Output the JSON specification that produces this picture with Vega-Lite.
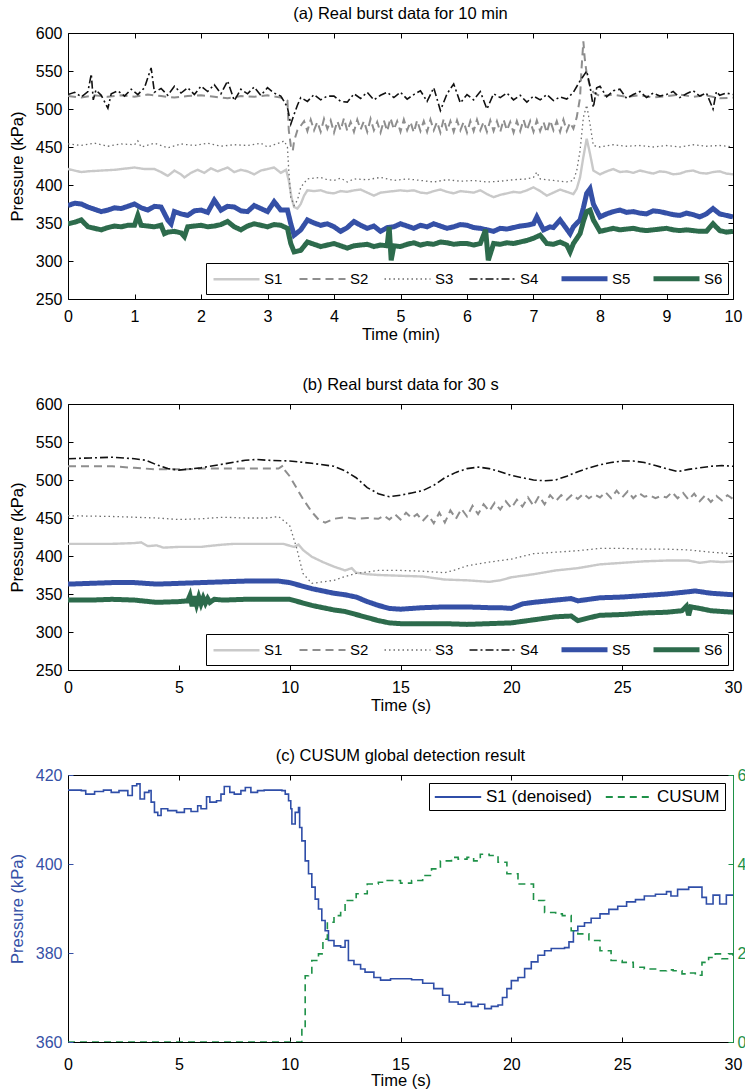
{
  "$schema": "https://vega.github.io/schema/vega-lite/v6.json",
  "padding": {"left": 8, "top": 5, "right": 0, "bottom": 0},
  "spacing": 33,
  "resolve": {"scale": {"color": "independent", "strokeDash": "independent", "strokeWidth": "independent"}, "legend": {"color": "independent", "strokeDash": "independent"}},
  "config": {
    "font": "Liberation Sans",
    "view": {"stroke": "black", "strokeWidth": 1},
    "axis": {"grid": false, "domain": false, "tickColor": "black", "tickSize": -5, "labelFontSize": 16, "labelColor": "black", "titleFontSize": 16.5, "titleFontWeight": "normal", "titleColor": "black", "labelFlush": false, "labelOverlap": false},
    "axisX": {"labelPadding": 14, "titlePadding": 2},
    "axisY": {"labelPadding": 11, "titlePadding": 10},
    "title": {"fontSize": 16.5, "fontWeight": "normal", "offset": 2.5, "color": "black"},
    "legend": {"symbolType": "M-2.875,0H2.875", "symbolSize": 256, "symbolOffset": 15, "labelOffset": 17, "symbolStrokeWidth": 2, "labelColor": "black", "strokeColor": "black", "fillColor": "white", "padding": 5}
  },
  "vconcat": [
    {
      "title": "(a) Real burst data for 10 min",
      "width": 665,
      "height": 266,
      "data": {"values": [
        {"s":"S1","t":0,"v":421},{"s":"S1","t":0.1,"v":419},{"s":"S1","t":0.2,"v":417},{"s":"S1","t":0.3,"v":418},{"s":"S1","t":0.5,"v":419},{"s":"S1","t":0.7,"v":420},{"s":"S1","t":0.9,"v":422},{"s":"S1","t":1.0,"v":423},{"s":"S1","t":1.15,"v":421},{"s":"S1","t":1.3,"v":421},{"s":"S1","t":1.4,"v":417},{"s":"S1","t":1.5,"v":412},{"s":"S1","t":1.6,"v":419},{"s":"S1","t":1.7,"v":414},{"s":"S1","t":1.75,"v":410},{"s":"S1","t":1.85,"v":416},{"s":"S1","t":1.95,"v":420},{"s":"S1","t":2.05,"v":416},{"s":"S1","t":2.15,"v":422},{"s":"S1","t":2.25,"v":418},{"s":"S1","t":2.4,"v":423},{"s":"S1","t":2.5,"v":417},{"s":"S1","t":2.6,"v":420},{"s":"S1","t":2.7,"v":418},{"s":"S1","t":2.8,"v":414},{"s":"S1","t":2.9,"v":419},{"s":"S1","t":3.0,"v":421},{"s":"S1","t":3.1,"v":423},{"s":"S1","t":3.2,"v":416},{"s":"S1","t":3.28,"v":420},{"s":"S1","t":3.32,"v":406},{"s":"S1","t":3.36,"v":384},{"s":"S1","t":3.4,"v":371},{"s":"S1","t":3.45,"v":369},{"s":"S1","t":3.5,"v":375},{"s":"S1","t":3.55,"v":386},{"s":"S1","t":3.6,"v":393},{"s":"S1","t":3.7,"v":392},{"s":"S1","t":3.8,"v":393},{"s":"S1","t":3.9,"v":390},{"s":"S1","t":4.0,"v":389},{"s":"S1","t":4.1,"v":392},{"s":"S1","t":4.2,"v":391},{"s":"S1","t":4.3,"v":393},{"s":"S1","t":4.4,"v":394},{"s":"S1","t":4.5,"v":390},{"s":"S1","t":4.6,"v":386},{"s":"S1","t":4.7,"v":390},{"s":"S1","t":4.8,"v":391},{"s":"S1","t":4.9,"v":392},{"s":"S1","t":5.0,"v":393},{"s":"S1","t":5.1,"v":392},{"s":"S1","t":5.2,"v":393},{"s":"S1","t":5.3,"v":390},{"s":"S1","t":5.4,"v":389},{"s":"S1","t":5.5,"v":392},{"s":"S1","t":5.6,"v":394},{"s":"S1","t":5.7,"v":391},{"s":"S1","t":5.8,"v":389},{"s":"S1","t":5.9,"v":392},{"s":"S1","t":6.0,"v":391},{"s":"S1","t":6.1,"v":390},{"s":"S1","t":6.2,"v":393},{"s":"S1","t":6.3,"v":388},{"s":"S1","t":6.4,"v":384},{"s":"S1","t":6.5,"v":387},{"s":"S1","t":6.6,"v":389},{"s":"S1","t":6.7,"v":391},{"s":"S1","t":6.8,"v":390},{"s":"S1","t":6.9,"v":393},{"s":"S1","t":7.0,"v":397},{"s":"S1","t":7.1,"v":392},{"s":"S1","t":7.2,"v":386},{"s":"S1","t":7.3,"v":390},{"s":"S1","t":7.4,"v":394},{"s":"S1","t":7.5,"v":391},{"s":"S1","t":7.6,"v":388},{"s":"S1","t":7.65,"v":395},{"s":"S1","t":7.7,"v":410},{"s":"S1","t":7.75,"v":437},{"s":"S1","t":7.8,"v":461},{"s":"S1","t":7.85,"v":441},{"s":"S1","t":7.9,"v":419},{"s":"S1","t":8.0,"v":414},{"s":"S1","t":8.1,"v":418},{"s":"S1","t":8.2,"v":421},{"s":"S1","t":8.3,"v":417},{"s":"S1","t":8.4,"v":418},{"s":"S1","t":8.5,"v":416},{"s":"S1","t":8.6,"v":419},{"s":"S1","t":8.7,"v":417},{"s":"S1","t":8.8,"v":415},{"s":"S1","t":8.9,"v":418},{"s":"S1","t":9.0,"v":417},{"s":"S1","t":9.1,"v":414},{"s":"S1","t":9.2,"v":415},{"s":"S1","t":9.3,"v":418},{"s":"S1","t":9.4,"v":419},{"s":"S1","t":9.5,"v":416},{"s":"S1","t":9.6,"v":415},{"s":"S1","t":9.7,"v":417},{"s":"S1","t":9.8,"v":418},{"s":"S1","t":9.9,"v":415},{"s":"S1","t":10.0,"v":414},
        {"s":"S2","t":0,"v":517},{"s":"S2","t":0.2,"v":515},{"s":"S2","t":0.4,"v":518},{"s":"S2","t":0.6,"v":516},{"s":"S2","t":0.8,"v":518},{"s":"S2","t":1.0,"v":516},{"s":"S2","t":1.2,"v":519},{"s":"S2","t":1.4,"v":517},{"s":"S2","t":1.6,"v":515},{"s":"S2","t":1.8,"v":517},{"s":"S2","t":2.0,"v":518},{"s":"S2","t":2.2,"v":516},{"s":"S2","t":2.4,"v":514},{"s":"S2","t":2.6,"v":517},{"s":"S2","t":2.8,"v":516},{"s":"S2","t":3.0,"v":518},{"s":"S2","t":3.2,"v":515},{"s":"S2","t":3.3,"v":511},{"s":"S2","t":3.32,"v":472},{"s":"S2","t":3.35,"v":452},{"s":"S2","t":3.38,"v":445},{"s":"S2","t":3.4,"v":458},{"s":"S2","t":3.45,"v":472},{"s":"S2","t":3.5,"v":478},{"s":"S2","t":3.55,"v":484},{"s":"S2","t":3.6,"v":471},{"s":"S2","t":3.65,"v":486},{"s":"S2","t":3.7,"v":472},{"s":"S2","t":3.75,"v":483},{"s":"S2","t":3.8,"v":470},{"s":"S2","t":3.85,"v":487},{"s":"S2","t":3.9,"v":474},{"s":"S2","t":3.95,"v":485},{"s":"S2","t":4.0,"v":469},{"s":"S2","t":4.05,"v":484},{"s":"S2","t":4.1,"v":472},{"s":"S2","t":4.15,"v":488},{"s":"S2","t":4.2,"v":471},{"s":"S2","t":4.25,"v":483},{"s":"S2","t":4.3,"v":470},{"s":"S2","t":4.35,"v":486},{"s":"S2","t":4.4,"v":473},{"s":"S2","t":4.45,"v":484},{"s":"S2","t":4.5,"v":470},{"s":"S2","t":4.55,"v":487},{"s":"S2","t":4.6,"v":472},{"s":"S2","t":4.65,"v":483},{"s":"S2","t":4.7,"v":469},{"s":"S2","t":4.75,"v":485},{"s":"S2","t":4.8,"v":471},{"s":"S2","t":4.85,"v":488},{"s":"S2","t":4.9,"v":473},{"s":"S2","t":4.95,"v":484},{"s":"S2","t":5.0,"v":470},{"s":"S2","t":5.05,"v":486},{"s":"S2","t":5.1,"v":472},{"s":"S2","t":5.15,"v":483},{"s":"S2","t":5.2,"v":469},{"s":"S2","t":5.25,"v":485},{"s":"S2","t":5.3,"v":471},{"s":"S2","t":5.35,"v":484},{"s":"S2","t":5.4,"v":470},{"s":"S2","t":5.45,"v":486},{"s":"S2","t":5.5,"v":472},{"s":"S2","t":5.55,"v":483},{"s":"S2","t":5.6,"v":469},{"s":"S2","t":5.65,"v":487},{"s":"S2","t":5.7,"v":471},{"s":"S2","t":5.75,"v":484},{"s":"S2","t":5.8,"v":470},{"s":"S2","t":5.85,"v":485},{"s":"S2","t":5.9,"v":472},{"s":"S2","t":5.95,"v":483},{"s":"S2","t":6.0,"v":469},{"s":"S2","t":6.05,"v":484},{"s":"S2","t":6.1,"v":471},{"s":"S2","t":6.15,"v":486},{"s":"S2","t":6.2,"v":472},{"s":"S2","t":6.25,"v":483},{"s":"S2","t":6.3,"v":470},{"s":"S2","t":6.35,"v":485},{"s":"S2","t":6.4,"v":471},{"s":"S2","t":6.45,"v":484},{"s":"S2","t":6.5,"v":470},{"s":"S2","t":6.55,"v":486},{"s":"S2","t":6.6,"v":472},{"s":"S2","t":6.65,"v":483},{"s":"S2","t":6.7,"v":469},{"s":"S2","t":6.75,"v":484},{"s":"S2","t":6.8,"v":471},{"s":"S2","t":6.85,"v":486},{"s":"S2","t":6.9,"v":472},{"s":"S2","t":6.95,"v":484},{"s":"S2","t":7.0,"v":470},{"s":"S2","t":7.05,"v":485},{"s":"S2","t":7.1,"v":471},{"s":"S2","t":7.15,"v":483},{"s":"S2","t":7.2,"v":469},{"s":"S2","t":7.25,"v":485},{"s":"S2","t":7.3,"v":472},{"s":"S2","t":7.35,"v":484},{"s":"S2","t":7.4,"v":470},{"s":"S2","t":7.45,"v":486},{"s":"S2","t":7.5,"v":471},{"s":"S2","t":7.55,"v":482},{"s":"S2","t":7.6,"v":474},{"s":"S2","t":7.65,"v":489},{"s":"S2","t":7.7,"v":515},{"s":"S2","t":7.72,"v":550},{"s":"S2","t":7.75,"v":589},{"s":"S2","t":7.77,"v":567},{"s":"S2","t":7.8,"v":546},{"s":"S2","t":7.85,"v":530},{"s":"S2","t":7.9,"v":522},{"s":"S2","t":8.0,"v":517},{"s":"S2","t":8.2,"v":519},{"s":"S2","t":8.4,"v":516},{"s":"S2","t":8.6,"v":518},{"s":"S2","t":8.8,"v":515},{"s":"S2","t":9.0,"v":517},{"s":"S2","t":9.2,"v":519},{"s":"S2","t":9.4,"v":516},{"s":"S2","t":9.6,"v":518},{"s":"S2","t":9.8,"v":514},{"s":"S2","t":10.0,"v":515},
        {"s":"S3","t":0,"v":454},{"s":"S3","t":0.2,"v":452},{"s":"S3","t":0.4,"v":455},{"s":"S3","t":0.6,"v":451},{"s":"S3","t":0.8,"v":454},{"s":"S3","t":1.0,"v":453},{"s":"S3","t":1.05,"v":458},{"s":"S3","t":1.1,"v":450},{"s":"S3","t":1.3,"v":455},{"s":"S3","t":1.5,"v":449},{"s":"S3","t":1.7,"v":454},{"s":"S3","t":1.9,"v":452},{"s":"S3","t":2.1,"v":455},{"s":"S3","t":2.3,"v":451},{"s":"S3","t":2.5,"v":453},{"s":"S3","t":2.7,"v":452},{"s":"S3","t":2.9,"v":455},{"s":"S3","t":3.0,"v":450},{"s":"S3","t":3.1,"v":453},{"s":"S3","t":3.2,"v":456},{"s":"S3","t":3.25,"v":458},{"s":"S3","t":3.3,"v":450},{"s":"S3","t":3.32,"v":419},{"s":"S3","t":3.35,"v":384},{"s":"S3","t":3.4,"v":373},{"s":"S3","t":3.45,"v":380},{"s":"S3","t":3.5,"v":397},{"s":"S3","t":3.6,"v":408},{"s":"S3","t":3.7,"v":409},{"s":"S3","t":3.8,"v":410},{"s":"S3","t":3.9,"v":407},{"s":"S3","t":4.0,"v":406},{"s":"S3","t":4.1,"v":409},{"s":"S3","t":4.2,"v":404},{"s":"S3","t":4.3,"v":408},{"s":"S3","t":4.5,"v":407},{"s":"S3","t":4.7,"v":410},{"s":"S3","t":4.9,"v":406},{"s":"S3","t":5.1,"v":408},{"s":"S3","t":5.3,"v":406},{"s":"S3","t":5.5,"v":404},{"s":"S3","t":5.7,"v":407},{"s":"S3","t":5.9,"v":405},{"s":"S3","t":6.1,"v":406},{"s":"S3","t":6.3,"v":404},{"s":"S3","t":6.5,"v":405},{"s":"S3","t":6.7,"v":407},{"s":"S3","t":6.9,"v":408},{"s":"S3","t":7.0,"v":410},{"s":"S3","t":7.05,"v":417},{"s":"S3","t":7.1,"v":408},{"s":"S3","t":7.3,"v":406},{"s":"S3","t":7.5,"v":404},{"s":"S3","t":7.6,"v":406},{"s":"S3","t":7.65,"v":419},{"s":"S3","t":7.7,"v":445},{"s":"S3","t":7.75,"v":489},{"s":"S3","t":7.8,"v":505},{"s":"S3","t":7.85,"v":480},{"s":"S3","t":7.9,"v":452},{"s":"S3","t":8.0,"v":450},{"s":"S3","t":8.2,"v":453},{"s":"S3","t":8.4,"v":451},{"s":"S3","t":8.6,"v":452},{"s":"S3","t":8.8,"v":450},{"s":"S3","t":9.0,"v":452},{"s":"S3","t":9.2,"v":450},{"s":"S3","t":9.4,"v":453},{"s":"S3","t":9.6,"v":451},{"s":"S3","t":9.8,"v":452},{"s":"S3","t":10.0,"v":450},
        {"s":"S4","t":0,"v":519},{"s":"S4","t":0.1,"v":522},{"s":"S4","t":0.2,"v":516},{"s":"S4","t":0.3,"v":523},{"s":"S4","t":0.35,"v":546},{"s":"S4","t":0.38,"v":512},{"s":"S4","t":0.42,"v":525},{"s":"S4","t":0.5,"v":518},{"s":"S4","t":0.6,"v":501},{"s":"S4","t":0.65,"v":520},{"s":"S4","t":0.75,"v":524},{"s":"S4","t":0.85,"v":517},{"s":"S4","t":0.95,"v":526},{"s":"S4","t":1.05,"v":519},{"s":"S4","t":1.15,"v":528},{"s":"S4","t":1.25,"v":554},{"s":"S4","t":1.3,"v":522},{"s":"S4","t":1.4,"v":527},{"s":"S4","t":1.5,"v":518},{"s":"S4","t":1.6,"v":530},{"s":"S4","t":1.7,"v":521},{"s":"S4","t":1.8,"v":528},{"s":"S4","t":1.9,"v":519},{"s":"S4","t":2.0,"v":530},{"s":"S4","t":2.1,"v":523},{"s":"S4","t":2.2,"v":532},{"s":"S4","t":2.3,"v":520},{"s":"S4","t":2.4,"v":537},{"s":"S4","t":2.5,"v":511},{"s":"S4","t":2.6,"v":526},{"s":"S4","t":2.7,"v":520},{"s":"S4","t":2.8,"v":529},{"s":"S4","t":2.9,"v":518},{"s":"S4","t":3.0,"v":528},{"s":"S4","t":3.1,"v":521},{"s":"S4","t":3.2,"v":517},{"s":"S4","t":3.25,"v":510},{"s":"S4","t":3.3,"v":502},{"s":"S4","t":3.35,"v":480},{"s":"S4","t":3.4,"v":493},{"s":"S4","t":3.45,"v":505},{"s":"S4","t":3.5,"v":515},{"s":"S4","t":3.6,"v":510},{"s":"S4","t":3.7,"v":519},{"s":"S4","t":3.8,"v":512},{"s":"S4","t":3.9,"v":517},{"s":"S4","t":4.0,"v":517},{"s":"S4","t":4.1,"v":510},{"s":"S4","t":4.2,"v":509},{"s":"S4","t":4.3,"v":520},{"s":"S4","t":4.4,"v":514},{"s":"S4","t":4.5,"v":522},{"s":"S4","t":4.6,"v":512},{"s":"S4","t":4.7,"v":518},{"s":"S4","t":4.8,"v":522},{"s":"S4","t":4.9,"v":515},{"s":"S4","t":5.0,"v":522},{"s":"S4","t":5.1,"v":513},{"s":"S4","t":5.2,"v":519},{"s":"S4","t":5.3,"v":524},{"s":"S4","t":5.4,"v":510},{"s":"S4","t":5.5,"v":528},{"s":"S4","t":5.6,"v":498},{"s":"S4","t":5.7,"v":520},{"s":"S4","t":5.8,"v":533},{"s":"S4","t":5.9,"v":508},{"s":"S4","t":6.0,"v":519},{"s":"S4","t":6.1,"v":512},{"s":"S4","t":6.2,"v":523},{"s":"S4","t":6.3,"v":500},{"s":"S4","t":6.4,"v":520},{"s":"S4","t":6.5,"v":515},{"s":"S4","t":6.6,"v":521},{"s":"S4","t":6.7,"v":512},{"s":"S4","t":6.8,"v":518},{"s":"S4","t":6.9,"v":509},{"s":"S4","t":7.0,"v":517},{"s":"S4","t":7.1,"v":512},{"s":"S4","t":7.2,"v":519},{"s":"S4","t":7.3,"v":511},{"s":"S4","t":7.4,"v":516},{"s":"S4","t":7.5,"v":513},{"s":"S4","t":7.6,"v":522},{"s":"S4","t":7.7,"v":537},{"s":"S4","t":7.8,"v":550},{"s":"S4","t":7.85,"v":530},{"s":"S4","t":7.9,"v":502},{"s":"S4","t":7.95,"v":528},{"s":"S4","t":8.0,"v":530},{"s":"S4","t":8.1,"v":516},{"s":"S4","t":8.2,"v":524},{"s":"S4","t":8.3,"v":526},{"s":"S4","t":8.4,"v":514},{"s":"S4","t":8.5,"v":519},{"s":"S4","t":8.6,"v":523},{"s":"S4","t":8.7,"v":515},{"s":"S4","t":8.8,"v":521},{"s":"S4","t":8.9,"v":517},{"s":"S4","t":9.0,"v":519},{"s":"S4","t":9.1,"v":523},{"s":"S4","t":9.2,"v":515},{"s":"S4","t":9.3,"v":520},{"s":"S4","t":9.4,"v":524},{"s":"S4","t":9.5,"v":517},{"s":"S4","t":9.6,"v":521},{"s":"S4","t":9.7,"v":500},{"s":"S4","t":9.75,"v":523},{"s":"S4","t":9.8,"v":518},{"s":"S4","t":9.9,"v":521},{"s":"S4","t":10.0,"v":519},
        {"s":"S5","t":0,"v":373},{"s":"S5","t":0.1,"v":376},{"s":"S5","t":0.2,"v":375},{"s":"S5","t":0.3,"v":371},{"s":"S5","t":0.4,"v":368},{"s":"S5","t":0.5,"v":365},{"s":"S5","t":0.6,"v":367},{"s":"S5","t":0.7,"v":370},{"s":"S5","t":0.8,"v":369},{"s":"S5","t":0.9,"v":372},{"s":"S5","t":1.0,"v":375},{"s":"S5","t":1.1,"v":370},{"s":"S5","t":1.2,"v":367},{"s":"S5","t":1.3,"v":372},{"s":"S5","t":1.4,"v":371},{"s":"S5","t":1.5,"v":354},{"s":"S5","t":1.55,"v":349},{"s":"S5","t":1.6,"v":365},{"s":"S5","t":1.7,"v":362},{"s":"S5","t":1.8,"v":360},{"s":"S5","t":1.9,"v":366},{"s":"S5","t":2.0,"v":367},{"s":"S5","t":2.1,"v":364},{"s":"S5","t":2.2,"v":380},{"s":"S5","t":2.3,"v":367},{"s":"S5","t":2.4,"v":372},{"s":"S5","t":2.5,"v":371},{"s":"S5","t":2.6,"v":366},{"s":"S5","t":2.7,"v":365},{"s":"S5","t":2.8,"v":373},{"s":"S5","t":2.9,"v":369},{"s":"S5","t":3.0,"v":365},{"s":"S5","t":3.1,"v":378},{"s":"S5","t":3.2,"v":367},{"s":"S5","t":3.3,"v":367},{"s":"S5","t":3.35,"v":349},{"s":"S5","t":3.4,"v":334},{"s":"S5","t":3.5,"v":341},{"s":"S5","t":3.6,"v":354},{"s":"S5","t":3.7,"v":350},{"s":"S5","t":3.8,"v":347},{"s":"S5","t":3.9,"v":349},{"s":"S5","t":4.0,"v":345},{"s":"S5","t":4.1,"v":339},{"s":"S5","t":4.2,"v":344},{"s":"S5","t":4.3,"v":352},{"s":"S5","t":4.4,"v":347},{"s":"S5","t":4.5,"v":343},{"s":"S5","t":4.6,"v":346},{"s":"S5","t":4.7,"v":339},{"s":"S5","t":4.8,"v":344},{"s":"S5","t":4.9,"v":345},{"s":"S5","t":5.0,"v":349},{"s":"S5","t":5.1,"v":346},{"s":"S5","t":5.2,"v":343},{"s":"S5","t":5.3,"v":347},{"s":"S5","t":5.4,"v":345},{"s":"S5","t":5.5,"v":349},{"s":"S5","t":5.6,"v":346},{"s":"S5","t":5.7,"v":343},{"s":"S5","t":5.8,"v":345},{"s":"S5","t":5.9,"v":348},{"s":"S5","t":6.0,"v":347},{"s":"S5","t":6.1,"v":344},{"s":"S5","t":6.2,"v":343},{"s":"S5","t":6.3,"v":341},{"s":"S5","t":6.4,"v":339},{"s":"S5","t":6.5,"v":343},{"s":"S5","t":6.6,"v":342},{"s":"S5","t":6.7,"v":344},{"s":"S5","t":6.8,"v":346},{"s":"S5","t":6.9,"v":347},{"s":"S5","t":7.0,"v":349},{"s":"S5","t":7.05,"v":358},{"s":"S5","t":7.15,"v":341},{"s":"S5","t":7.25,"v":345},{"s":"S5","t":7.3,"v":344},{"s":"S5","t":7.4,"v":354},{"s":"S5","t":7.5,"v":342},{"s":"S5","t":7.55,"v":336},{"s":"S5","t":7.6,"v":345},{"s":"S5","t":7.7,"v":354},{"s":"S5","t":7.75,"v":370},{"s":"S5","t":7.8,"v":389},{"s":"S5","t":7.85,"v":395},{"s":"S5","t":7.9,"v":375},{"s":"S5","t":8.0,"v":358},{"s":"S5","t":8.1,"v":362},{"s":"S5","t":8.2,"v":365},{"s":"S5","t":8.3,"v":367},{"s":"S5","t":8.4,"v":364},{"s":"S5","t":8.5,"v":365},{"s":"S5","t":8.6,"v":363},{"s":"S5","t":8.7,"v":362},{"s":"S5","t":8.8,"v":366},{"s":"S5","t":8.9,"v":365},{"s":"S5","t":9.0,"v":363},{"s":"S5","t":9.1,"v":361},{"s":"S5","t":9.2,"v":360},{"s":"S5","t":9.3,"v":363},{"s":"S5","t":9.4,"v":361},{"s":"S5","t":9.5,"v":358},{"s":"S5","t":9.6,"v":362},{"s":"S5","t":9.7,"v":369},{"s":"S5","t":9.8,"v":362},{"s":"S5","t":9.9,"v":360},{"s":"S5","t":10.0,"v":358},
        {"s":"S6","t":0,"v":349},{"s":"S6","t":0.1,"v":351},{"s":"S6","t":0.2,"v":354},{"s":"S6","t":0.3,"v":345},{"s":"S6","t":0.4,"v":343},{"s":"S6","t":0.5,"v":341},{"s":"S6","t":0.6,"v":344},{"s":"S6","t":0.7,"v":346},{"s":"S6","t":0.8,"v":345},{"s":"S6","t":0.9,"v":347},{"s":"S6","t":1.0,"v":347},{"s":"S6","t":1.05,"v":360},{"s":"S6","t":1.1,"v":347},{"s":"S6","t":1.2,"v":346},{"s":"S6","t":1.3,"v":345},{"s":"S6","t":1.4,"v":347},{"s":"S6","t":1.45,"v":336},{"s":"S6","t":1.5,"v":338},{"s":"S6","t":1.6,"v":339},{"s":"S6","t":1.7,"v":337},{"s":"S6","t":1.75,"v":332},{"s":"S6","t":1.8,"v":345},{"s":"S6","t":1.9,"v":346},{"s":"S6","t":2.0,"v":347},{"s":"S6","t":2.1,"v":345},{"s":"S6","t":2.2,"v":346},{"s":"S6","t":2.3,"v":348},{"s":"S6","t":2.4,"v":352},{"s":"S6","t":2.5,"v":345},{"s":"S6","t":2.6,"v":341},{"s":"S6","t":2.7,"v":346},{"s":"S6","t":2.8,"v":349},{"s":"S6","t":2.9,"v":347},{"s":"S6","t":3.0,"v":345},{"s":"S6","t":3.1,"v":348},{"s":"S6","t":3.2,"v":347},{"s":"S6","t":3.3,"v":343},{"s":"S6","t":3.35,"v":323},{"s":"S6","t":3.4,"v":312},{"s":"S6","t":3.5,"v":314},{"s":"S6","t":3.6,"v":325},{"s":"S6","t":3.7,"v":322},{"s":"S6","t":3.8,"v":319},{"s":"S6","t":3.9,"v":321},{"s":"S6","t":4.0,"v":323},{"s":"S6","t":4.1,"v":320},{"s":"S6","t":4.2,"v":317},{"s":"S6","t":4.3,"v":320},{"s":"S6","t":4.4,"v":321},{"s":"S6","t":4.5,"v":322},{"s":"S6","t":4.6,"v":319},{"s":"S6","t":4.7,"v":321},{"s":"S6","t":4.8,"v":320},{"s":"S6","t":4.83,"v":345},{"s":"S6","t":4.86,"v":301},{"s":"S6","t":4.9,"v":320},{"s":"S6","t":5.0,"v":319},{"s":"S6","t":5.1,"v":322},{"s":"S6","t":5.2,"v":324},{"s":"S6","t":5.3,"v":321},{"s":"S6","t":5.4,"v":323},{"s":"S6","t":5.5,"v":322},{"s":"S6","t":5.6,"v":325},{"s":"S6","t":5.7,"v":324},{"s":"S6","t":5.8,"v":322},{"s":"S6","t":5.9,"v":323},{"s":"S6","t":6.0,"v":323},{"s":"S6","t":6.1,"v":321},{"s":"S6","t":6.2,"v":323},{"s":"S6","t":6.28,"v":341},{"s":"S6","t":6.32,"v":301},{"s":"S6","t":6.4,"v":323},{"s":"S6","t":6.5,"v":322},{"s":"S6","t":6.6,"v":324},{"s":"S6","t":6.7,"v":323},{"s":"S6","t":6.8,"v":325},{"s":"S6","t":6.9,"v":327},{"s":"S6","t":7.0,"v":330},{"s":"S6","t":7.1,"v":334},{"s":"S6","t":7.2,"v":323},{"s":"S6","t":7.3,"v":322},{"s":"S6","t":7.4,"v":325},{"s":"S6","t":7.5,"v":321},{"s":"S6","t":7.55,"v":312},{"s":"S6","t":7.6,"v":323},{"s":"S6","t":7.7,"v":336},{"s":"S6","t":7.75,"v":352},{"s":"S6","t":7.8,"v":365},{"s":"S6","t":7.85,"v":367},{"s":"S6","t":7.9,"v":354},{"s":"S6","t":8.0,"v":339},{"s":"S6","t":8.1,"v":341},{"s":"S6","t":8.2,"v":343},{"s":"S6","t":8.3,"v":341},{"s":"S6","t":8.4,"v":342},{"s":"S6","t":8.5,"v":343},{"s":"S6","t":8.6,"v":341},{"s":"S6","t":8.7,"v":340},{"s":"S6","t":8.8,"v":341},{"s":"S6","t":8.9,"v":342},{"s":"S6","t":9.0,"v":343},{"s":"S6","t":9.1,"v":341},{"s":"S6","t":9.2,"v":340},{"s":"S6","t":9.3,"v":341},{"s":"S6","t":9.4,"v":340},{"s":"S6","t":9.5,"v":339},{"s":"S6","t":9.6,"v":339},{"s":"S6","t":9.7,"v":349},{"s":"S6","t":9.8,"v":340},{"s":"S6","t":9.9,"v":338},{"s":"S6","t":10.0,"v":339}
      ]},
      "layer": [
        {
          "mark": {"type": "line", "clip": true},
          "encoding": {
            "x": {"field": "t", "type": "quantitative", "scale": {"domain": [0, 10], "nice": false}, "axis": {"values": [0,1,2,3,4,5,6,7,8,9,10], "title": "Time (min)"}},
            "y": {"field": "v", "type": "quantitative", "scale": {"domain": [250, 600], "nice": false, "zero": false}, "axis": {"values": [250,300,350,400,450,500,550,600], "title": "Pressure (kPa)"}},
            "color": {"field": "s", "type": "nominal", "scale": {"domain": ["S1","S2","S3","S4","S5","S6"], "range": ["#c9c9c9","#8e8e8e","#6e6e6e","#111111","#3550a6","#2d6b4c"]}, "legend": {"title": null, "orient": "bottom-right", "offset": 5, "direction": "horizontal", "columns": 6, "labelFontSize": 15, "columnPadding": 12}},
            "strokeDash": {"field": "s", "type": "nominal", "scale": {"domain": ["S1","S2","S3","S4","S5","S6"], "range": [[1,0],[8,5],[1.5,3],[8,3,2,3],[1,0],[1,0]]}, "legend": {"title": null, "orient": "bottom-right", "offset": 5, "direction": "horizontal", "columns": 6, "labelFontSize": 15, "columnPadding": 12}},
            "strokeWidth": {"field": "s", "type": "nominal", "scale": {"type": "ordinal", "domain": ["S1","S2","S3","S4","S5","S6"], "range": [2.4,2,1.3,1.6,5,5]}, "legend": null}
          }
        },
        {
          "mark": {"type": "point", "opacity": 0},
          "encoding": {
            "x": {"field": "t", "type": "quantitative", "axis": {"orient": "top", "labels": false, "title": null, "values": [0,1,2,3,4,5,6,7,8,9,10]}},
            "y": {"field": "v", "type": "quantitative", "axis": {"orient": "right", "labels": false, "title": null, "values": [250,300,350,400,450,500,550,600]}}
          }
        }
      ],
      "resolve": {"axis": {"x": "independent", "y": "independent"}}
    },
    {
      "title": "(b) Real burst data for 30 s",
      "width": 665,
      "height": 266,
      "data": {"values": [
        {"s":"S1","t":0,"v":416},{"s":"S1","t":1,"v":416},{"s":"S1","t":2,"v":416},{"s":"S1","t":3,"v":417},{"s":"S1","t":3.3,"v":418},{"s":"S1","t":3.6,"v":413},{"s":"S1","t":4,"v":414},{"s":"S1","t":4.3,"v":411},{"s":"S1","t":5,"v":412},{"s":"S1","t":6,"v":412},{"s":"S1","t":6.3,"v":413},{"s":"S1","t":7,"v":415},{"s":"S1","t":7.5,"v":416},{"s":"S1","t":8,"v":416},{"s":"S1","t":9,"v":416},{"s":"S1","t":9.7,"v":416},{"s":"S1","t":10.2,"v":412},{"s":"S1","t":10.4,"v":415},{"s":"S1","t":10.6,"v":408},{"s":"S1","t":11,"v":399},{"s":"S1","t":11.5,"v":392},{"s":"S1","t":12,"v":386},{"s":"S1","t":12.5,"v":381},{"s":"S1","t":12.8,"v":384},{"s":"S1","t":13,"v":378},{"s":"S1","t":13.5,"v":376},{"s":"S1","t":14,"v":375},{"s":"S1","t":15,"v":374},{"s":"S1","t":16,"v":373},{"s":"S1","t":17,"v":369},{"s":"S1","t":18,"v":368},{"s":"S1","t":19,"v":366},{"s":"S1","t":19.5,"v":368},{"s":"S1","t":20,"v":372},{"s":"S1","t":21,"v":376},{"s":"S1","t":22,"v":381},{"s":"S1","t":23,"v":384},{"s":"S1","t":24,"v":389},{"s":"S1","t":25,"v":391},{"s":"S1","t":26,"v":393},{"s":"S1","t":27,"v":394},{"s":"S1","t":28,"v":394},{"s":"S1","t":28.5,"v":391},{"s":"S1","t":29,"v":393},{"s":"S1","t":29.5,"v":392},{"s":"S1","t":30,"v":393},
        {"s":"S2","t":0,"v":518},{"s":"S2","t":1,"v":518},{"s":"S2","t":2,"v":518},{"s":"S2","t":3,"v":516},{"s":"S2","t":4,"v":514},{"s":"S2","t":5,"v":514},{"s":"S2","t":6,"v":515},{"s":"S2","t":7,"v":515},{"s":"S2","t":8,"v":515},{"s":"S2","t":9,"v":515},{"s":"S2","t":9.5,"v":515},{"s":"S2","t":9.7,"v":519},{"s":"S2","t":9.75,"v":514},{"s":"S2","t":10,"v":505},{"s":"S2","t":10.3,"v":490},{"s":"S2","t":10.6,"v":475},{"s":"S2","t":11,"v":458},{"s":"S2","t":11.3,"v":448},{"s":"S2","t":11.6,"v":444},{"s":"S2","t":12,"v":449},{"s":"S2","t":12.5,"v":451},{"s":"S2","t":13,"v":449},{"s":"S2","t":13.5,"v":450},{"s":"S2","t":14,"v":449},{"s":"S2","t":14.25,"v":453},{"s":"S2","t":14.5,"v":448},{"s":"S2","t":14.75,"v":455},{"s":"S2","t":15,"v":448},{"s":"S2","t":15.25,"v":457},{"s":"S2","t":15.5,"v":450},{"s":"S2","t":15.75,"v":455},{"s":"S2","t":16,"v":446},{"s":"S2","t":16.25,"v":454},{"s":"S2","t":16.5,"v":443},{"s":"S2","t":16.75,"v":457},{"s":"S2","t":17,"v":444},{"s":"S2","t":17.25,"v":460},{"s":"S2","t":17.5,"v":449},{"s":"S2","t":17.75,"v":462},{"s":"S2","t":18,"v":452},{"s":"S2","t":18.25,"v":466},{"s":"S2","t":18.5,"v":455},{"s":"S2","t":18.75,"v":468},{"s":"S2","t":19,"v":459},{"s":"S2","t":19.25,"v":470},{"s":"S2","t":19.5,"v":461},{"s":"S2","t":19.75,"v":472},{"s":"S2","t":20,"v":463},{"s":"S2","t":20.25,"v":474},{"s":"S2","t":20.5,"v":465},{"s":"S2","t":20.75,"v":477},{"s":"S2","t":21,"v":466},{"s":"S2","t":21.25,"v":479},{"s":"S2","t":21.5,"v":468},{"s":"S2","t":21.75,"v":480},{"s":"S2","t":22,"v":472},{"s":"S2","t":22.25,"v":480},{"s":"S2","t":22.5,"v":474},{"s":"S2","t":22.75,"v":481},{"s":"S2","t":23,"v":475},{"s":"S2","t":23.25,"v":482},{"s":"S2","t":23.5,"v":476},{"s":"S2","t":23.75,"v":481},{"s":"S2","t":24,"v":477},{"s":"S2","t":24.25,"v":484},{"s":"S2","t":24.5,"v":476},{"s":"S2","t":24.75,"v":486},{"s":"S2","t":25,"v":477},{"s":"S2","t":25.25,"v":485},{"s":"S2","t":25.5,"v":476},{"s":"S2","t":25.75,"v":483},{"s":"S2","t":26,"v":478},{"s":"S2","t":26.25,"v":480},{"s":"S2","t":26.5,"v":476},{"s":"S2","t":26.75,"v":479},{"s":"S2","t":27,"v":477},{"s":"S2","t":27.25,"v":484},{"s":"S2","t":27.5,"v":476},{"s":"S2","t":27.75,"v":483},{"s":"S2","t":28,"v":474},{"s":"S2","t":28.25,"v":482},{"s":"S2","t":28.5,"v":472},{"s":"S2","t":28.75,"v":480},{"s":"S2","t":29,"v":471},{"s":"S2","t":29.25,"v":479},{"s":"S2","t":29.5,"v":473},{"s":"S2","t":29.75,"v":480},{"s":"S2","t":30,"v":475},
        {"s":"S3","t":0,"v":453},{"s":"S3","t":2,"v":452},{"s":"S3","t":4,"v":450},{"s":"S3","t":5,"v":448},{"s":"S3","t":6,"v":449},{"s":"S3","t":7,"v":451},{"s":"S3","t":8,"v":450},{"s":"S3","t":9,"v":450},{"s":"S3","t":9.5,"v":452},{"s":"S3","t":10,"v":440},{"s":"S3","t":10.3,"v":412},{"s":"S3","t":10.6,"v":377},{"s":"S3","t":11,"v":364},{"s":"S3","t":11.5,"v":366},{"s":"S3","t":12,"v":368},{"s":"S3","t":12.5,"v":373},{"s":"S3","t":13,"v":377},{"s":"S3","t":14,"v":381},{"s":"S3","t":15,"v":381},{"s":"S3","t":16,"v":380},{"s":"S3","t":17,"v":378},{"s":"S3","t":17.5,"v":382},{"s":"S3","t":18,"v":387},{"s":"S3","t":19,"v":392},{"s":"S3","t":20,"v":396},{"s":"S3","t":21,"v":403},{"s":"S3","t":22,"v":405},{"s":"S3","t":23,"v":407},{"s":"S3","t":24,"v":410},{"s":"S3","t":25,"v":410},{"s":"S3","t":26,"v":409},{"s":"S3","t":27,"v":409},{"s":"S3","t":28,"v":408},{"s":"S3","t":29,"v":405},{"s":"S3","t":30,"v":403},
        {"s":"S4","t":0,"v":528},{"s":"S4","t":1,"v":529},{"s":"S4","t":2,"v":530},{"s":"S4","t":3,"v":528},{"s":"S4","t":3.5,"v":526},{"s":"S4","t":4,"v":520},{"s":"S4","t":4.5,"v":515},{"s":"S4","t":5,"v":513},{"s":"S4","t":6,"v":516},{"s":"S4","t":7,"v":521},{"s":"S4","t":8,"v":526},{"s":"S4","t":8.5,"v":527},{"s":"S4","t":9,"v":526},{"s":"S4","t":10,"v":525},{"s":"S4","t":11,"v":522},{"s":"S4","t":12,"v":518},{"s":"S4","t":12.5,"v":512},{"s":"S4","t":13,"v":503},{"s":"S4","t":13.5,"v":490},{"s":"S4","t":14,"v":482},{"s":"S4","t":14.5,"v":478},{"s":"S4","t":15,"v":480},{"s":"S4","t":15.5,"v":483},{"s":"S4","t":16,"v":486},{"s":"S4","t":16.5,"v":493},{"s":"S4","t":17,"v":503},{"s":"S4","t":17.5,"v":510},{"s":"S4","t":18,"v":515},{"s":"S4","t":18.5,"v":517},{"s":"S4","t":19,"v":515},{"s":"S4","t":19.5,"v":511},{"s":"S4","t":20,"v":506},{"s":"S4","t":20.5,"v":503},{"s":"S4","t":21,"v":500},{"s":"S4","t":21.5,"v":499},{"s":"S4","t":22,"v":500},{"s":"S4","t":22.5,"v":505},{"s":"S4","t":23,"v":511},{"s":"S4","t":23.5,"v":516},{"s":"S4","t":24,"v":520},{"s":"S4","t":24.5,"v":523},{"s":"S4","t":25,"v":525},{"s":"S4","t":25.5,"v":525},{"s":"S4","t":26,"v":523},{"s":"S4","t":26.5,"v":519},{"s":"S4","t":27,"v":515},{"s":"S4","t":27.5,"v":511},{"s":"S4","t":28,"v":514},{"s":"S4","t":28.5,"v":516},{"s":"S4","t":29,"v":518},{"s":"S4","t":29.5,"v":519},{"s":"S4","t":30,"v":518},
        {"s":"S5","t":0,"v":363},{"s":"S5","t":1,"v":364},{"s":"S5","t":2,"v":365},{"s":"S5","t":3,"v":365},{"s":"S5","t":4,"v":363},{"s":"S5","t":5,"v":364},{"s":"S5","t":6,"v":365},{"s":"S5","t":7,"v":366},{"s":"S5","t":8,"v":367},{"s":"S5","t":9,"v":367},{"s":"S5","t":9.5,"v":367},{"s":"S5","t":10,"v":365},{"s":"S5","t":10.5,"v":361},{"s":"S5","t":11,"v":357},{"s":"S5","t":11.5,"v":354},{"s":"S5","t":12,"v":351},{"s":"S5","t":12.5,"v":349},{"s":"S5","t":13,"v":346},{"s":"S5","t":13.5,"v":340},{"s":"S5","t":14,"v":335},{"s":"S5","t":14.5,"v":331},{"s":"S5","t":15,"v":330},{"s":"S5","t":16,"v":332},{"s":"S5","t":17,"v":333},{"s":"S5","t":18,"v":333},{"s":"S5","t":19,"v":332},{"s":"S5","t":19.5,"v":332},{"s":"S5","t":20,"v":331},{"s":"S5","t":20.5,"v":337},{"s":"S5","t":21,"v":339},{"s":"S5","t":22,"v":342},{"s":"S5","t":22.7,"v":344},{"s":"S5","t":23,"v":341},{"s":"S5","t":24,"v":345},{"s":"S5","t":25,"v":346},{"s":"S5","t":26,"v":348},{"s":"S5","t":27,"v":350},{"s":"S5","t":28,"v":353},{"s":"S5","t":28.3,"v":354},{"s":"S5","t":29,"v":351},{"s":"S5","t":30,"v":349},
        {"s":"S6","t":0,"v":342},{"s":"S6","t":1,"v":342},{"s":"S6","t":2,"v":343},{"s":"S6","t":3,"v":342},{"s":"S6","t":4,"v":339},{"s":"S6","t":5,"v":340},{"s":"S6","t":5.4,"v":341},{"s":"S6","t":5.5,"v":348},{"s":"S6","t":5.6,"v":334},{"s":"S6","t":5.7,"v":347},{"s":"S6","t":5.8,"v":336},{"s":"S6","t":5.9,"v":346},{"s":"S6","t":6.0,"v":337},{"s":"S6","t":6.1,"v":345},{"s":"S6","t":6.2,"v":338},{"s":"S6","t":6.3,"v":344},{"s":"S6","t":6.4,"v":339},{"s":"S6","t":6.6,"v":343},{"s":"S6","t":7,"v":342},{"s":"S6","t":8,"v":343},{"s":"S6","t":9,"v":343},{"s":"S6","t":10,"v":343},{"s":"S6","t":10.5,"v":339},{"s":"S6","t":11,"v":335},{"s":"S6","t":11.5,"v":332},{"s":"S6","t":12,"v":329},{"s":"S6","t":12.5,"v":327},{"s":"S6","t":13,"v":323},{"s":"S6","t":13.5,"v":319},{"s":"S6","t":14,"v":315},{"s":"S6","t":14.5,"v":312},{"s":"S6","t":15,"v":311},{"s":"S6","t":16,"v":311},{"s":"S6","t":17,"v":311},{"s":"S6","t":18,"v":310},{"s":"S6","t":19,"v":311},{"s":"S6","t":20,"v":312},{"s":"S6","t":21,"v":316},{"s":"S6","t":22,"v":320},{"s":"S6","t":22.7,"v":321},{"s":"S6","t":23,"v":315},{"s":"S6","t":23.4,"v":318},{"s":"S6","t":24,"v":322},{"s":"S6","t":25,"v":323},{"s":"S6","t":26,"v":325},{"s":"S6","t":27,"v":326},{"s":"S6","t":27.7,"v":328},{"s":"S6","t":27.9,"v":334},{"s":"S6","t":28,"v":322},{"s":"S6","t":28.1,"v":333},{"s":"S6","t":28.5,"v":331},{"s":"S6","t":29,"v":328},{"s":"S6","t":30,"v":326}
      ]},
      "layer": [
        {
          "mark": {"type": "line", "clip": true},
          "encoding": {
            "x": {"field": "t", "type": "quantitative", "scale": {"domain": [0, 30], "nice": false}, "axis": {"values": [0,5,10,15,20,25,30], "title": "Time (s)"}},
            "y": {"field": "v", "type": "quantitative", "scale": {"domain": [250, 600], "nice": false, "zero": false}, "axis": {"values": [250,300,350,400,450,500,550,600], "title": "Pressure (kPa)"}},
            "color": {"field": "s", "type": "nominal", "scale": {"domain": ["S1","S2","S3","S4","S5","S6"], "range": ["#c9c9c9","#8e8e8e","#6e6e6e","#111111","#3550a6","#2d6b4c"]}, "legend": {"title": null, "orient": "bottom-right", "offset": 5, "direction": "horizontal", "columns": 6, "labelFontSize": 15, "columnPadding": 12}},
            "strokeDash": {"field": "s", "type": "nominal", "scale": {"domain": ["S1","S2","S3","S4","S5","S6"], "range": [[1,0],[8,5],[1.5,3],[8,3,2,3],[1,0],[1,0]]}, "legend": {"title": null, "orient": "bottom-right", "offset": 5, "direction": "horizontal", "columns": 6, "labelFontSize": 15, "columnPadding": 12}},
            "strokeWidth": {"field": "s", "type": "nominal", "scale": {"type": "ordinal", "domain": ["S1","S2","S3","S4","S5","S6"], "range": [2.4,2,1.3,1.6,5,5]}, "legend": null}
          }
        },
        {
          "mark": {"type": "point", "opacity": 0},
          "encoding": {
            "x": {"field": "t", "type": "quantitative", "axis": {"orient": "top", "labels": false, "title": null, "values": [0,5,10,15,20,25,30]}},
            "y": {"field": "v", "type": "quantitative", "axis": {"orient": "right", "labels": false, "title": null, "values": [250,300,350,400,450,500,550,600]}}
          }
        }
      ],
      "resolve": {"axis": {"x": "independent", "y": "independent"}}
    },
    {
      "title": "(c) CUSUM global detection result",
      "width": 665,
      "height": 267,
      "layer": [
        {
          "data": {"values": [
            {"s":"S1 (denoised)","t":0,"v":416.6},{"s":"S1 (denoised)","t":0.6,"v":416.5},{"s":"S1 (denoised)","t":0.8,"v":415.7},{"s":"S1 (denoised)","t":1.2,"v":416.3},{"s":"S1 (denoised)","t":1.6,"v":416.6},{"s":"S1 (denoised)","t":1.95,"v":416.1},{"s":"S1 (denoised)","t":2.3,"v":416.5},{"s":"S1 (denoised)","t":2.7,"v":415.4},{"s":"S1 (denoised)","t":2.9,"v":417.6},{"s":"S1 (denoised)","t":3.1,"v":418},{"s":"S1 (denoised)","t":3.25,"v":414.6},{"s":"S1 (denoised)","t":3.45,"v":416.1},{"s":"S1 (denoised)","t":3.65,"v":416.5},{"s":"S1 (denoised)","t":3.75,"v":413.9},{"s":"S1 (denoised)","t":3.9,"v":411.6},{"s":"S1 (denoised)","t":4.05,"v":410.9},{"s":"S1 (denoised)","t":4.2,"v":412.4},{"s":"S1 (denoised)","t":4.5,"v":412},{"s":"S1 (denoised)","t":4.9,"v":411.6},{"s":"S1 (denoised)","t":5.25,"v":412.4},{"s":"S1 (denoised)","t":5.55,"v":411.8},{"s":"S1 (denoised)","t":5.85,"v":413.1},{"s":"S1 (denoised)","t":6.0,"v":412.4},{"s":"S1 (denoised)","t":6.25,"v":415.1},{"s":"S1 (denoised)","t":6.4,"v":413.9},{"s":"S1 (denoised)","t":6.7,"v":414.2},{"s":"S1 (denoised)","t":6.9,"v":415.7},{"s":"S1 (denoised)","t":7.05,"v":417.4},{"s":"S1 (denoised)","t":7.3,"v":416.1},{"s":"S1 (denoised)","t":7.5,"v":415.7},{"s":"S1 (denoised)","t":7.8,"v":416.5},{"s":"S1 (denoised)","t":8.0,"v":417.2},{"s":"S1 (denoised)","t":8.25,"v":416.1},{"s":"S1 (denoised)","t":8.55,"v":416.5},{"s":"S1 (denoised)","t":8.85,"v":416.6},{"s":"S1 (denoised)","t":9.3,"v":416.6},{"s":"S1 (denoised)","t":9.65,"v":416.5},{"s":"S1 (denoised)","t":9.8,"v":415.7},{"s":"S1 (denoised)","t":9.95,"v":414.2},{"s":"S1 (denoised)","t":10.05,"v":412.4},{"s":"S1 (denoised)","t":10.1,"v":409},{"s":"S1 (denoised)","t":10.25,"v":411.6},{"s":"S1 (denoised)","t":10.4,"v":412.7},{"s":"S1 (denoised)","t":10.45,"v":408.2},{"s":"S1 (denoised)","t":10.55,"v":405.2},{"s":"S1 (denoised)","t":10.7,"v":400.7},{"s":"S1 (denoised)","t":10.85,"v":397.8},{"s":"S1 (denoised)","t":11.0,"v":394.8},{"s":"S1 (denoised)","t":11.15,"v":392.1},{"s":"S1 (denoised)","t":11.3,"v":389.9},{"s":"S1 (denoised)","t":11.45,"v":387.3},{"s":"S1 (denoised)","t":11.6,"v":385},{"s":"S1 (denoised)","t":11.75,"v":382.8},{"s":"S1 (denoised)","t":12.0,"v":381.6},{"s":"S1 (denoised)","t":12.3,"v":381.3},{"s":"S1 (denoised)","t":12.5,"v":382.8},{"s":"S1 (denoised)","t":12.65,"v":378.3},{"s":"S1 (denoised)","t":12.9,"v":377.4},{"s":"S1 (denoised)","t":13.2,"v":376.4},{"s":"S1 (denoised)","t":13.4,"v":375.7},{"s":"S1 (denoised)","t":13.8,"v":374.5},{"s":"S1 (denoised)","t":14.1,"v":373.9},{"s":"S1 (denoised)","t":14.55,"v":374.2},{"s":"S1 (denoised)","t":15.0,"v":374.2},{"s":"S1 (denoised)","t":15.5,"v":374.0},{"s":"S1 (denoised)","t":16.0,"v":373.2},{"s":"S1 (denoised)","t":16.5,"v":372.0},{"s":"S1 (denoised)","t":16.9,"v":370.5},{"s":"S1 (denoised)","t":17.2,"v":369.0},{"s":"S1 (denoised)","t":17.6,"v":368.5},{"s":"S1 (denoised)","t":17.9,"v":368.9},{"s":"S1 (denoised)","t":18.2,"v":368.0},{"s":"S1 (denoised)","t":18.5,"v":368.5},{"s":"S1 (denoised)","t":18.8,"v":367.5},{"s":"S1 (denoised)","t":19.1,"v":368.0},{"s":"S1 (denoised)","t":19.4,"v":368.3},{"s":"S1 (denoised)","t":19.6,"v":370},{"s":"S1 (denoised)","t":19.8,"v":372},{"s":"S1 (denoised)","t":20.0,"v":373.8},{"s":"S1 (denoised)","t":20.3,"v":374.5},{"s":"S1 (denoised)","t":20.6,"v":376.5},{"s":"S1 (denoised)","t":20.9,"v":378},{"s":"S1 (denoised)","t":21.2,"v":379.5},{"s":"S1 (denoised)","t":21.5,"v":380.5},{"s":"S1 (denoised)","t":21.8,"v":381},{"s":"S1 (denoised)","t":22.1,"v":381},{"s":"S1 (denoised)","t":22.4,"v":381.2},{"s":"S1 (denoised)","t":22.6,"v":382.5},{"s":"S1 (denoised)","t":22.8,"v":385},{"s":"S1 (denoised)","t":23.0,"v":386},{"s":"S1 (denoised)","t":23.3,"v":386.8},{"s":"S1 (denoised)","t":23.6,"v":387.8},{"s":"S1 (denoised)","t":24.0,"v":388.8},{"s":"S1 (denoised)","t":24.4,"v":389.8},{"s":"S1 (denoised)","t":24.8,"v":390.5},{"s":"S1 (denoised)","t":25.2,"v":391.5},{"s":"S1 (denoised)","t":25.6,"v":392},{"s":"S1 (denoised)","t":26.0,"v":392.8},{"s":"S1 (denoised)","t":26.5,"v":393.2},{"s":"S1 (denoised)","t":27.0,"v":393.8},{"s":"S1 (denoised)","t":27.2,"v":392.8},{"s":"S1 (denoised)","t":27.5,"v":394.3},{"s":"S1 (denoised)","t":28.0,"v":394.8},{"s":"S1 (denoised)","t":28.4,"v":394.8},{"s":"S1 (denoised)","t":28.6,"v":392.5},{"s":"S1 (denoised)","t":28.8,"v":391},{"s":"S1 (denoised)","t":29.1,"v":393},{"s":"S1 (denoised)","t":29.4,"v":391},{"s":"S1 (denoised)","t":29.7,"v":393},{"s":"S1 (denoised)","t":30,"v":392.8}
          ]},
          "mark": {"type": "line", "interpolate": "step-after", "strokeWidth": 1.6, "clip": true},
          "encoding": {
            "x": {"field": "t", "type": "quantitative", "scale": {"domain": [0, 30], "nice": false}, "axis": {"values": [0,5,10,15,20,25,30], "title": "Time (s)", "labelPadding": 19, "titlePadding": 0}},
            "y": {"field": "v", "type": "quantitative", "scale": {"domain": [360, 420], "nice": false, "zero": false}, "axis": {"values": [360,380,400,420], "title": "Pressure (kPa)", "labelColor": "#3550a6", "titleColor": "#3550a6", "tickColor": "#3550a6"}},
            "color": {"field": "s", "type": "nominal", "scale": {"domain": ["S1 (denoised)","CUSUM"], "range": ["#2f4ea8","#1e9148"]}, "legend": {"title": null, "orient": "top-right", "offset": 8, "direction": "horizontal", "columns": 2, "symbolType": "M-2.9,0H2.9", "labelFontSize": 17, "labelOffset": 19, "columnPadding": 9}},
            "strokeDash": {"field": "s", "type": "nominal", "scale": {"domain": ["S1 (denoised)","CUSUM"], "range": [[1,0],[7,5]]}, "legend": {"title": null, "orient": "top-right", "offset": 8, "direction": "horizontal", "columns": 2, "symbolType": "M-2.9,0H2.9", "labelFontSize": 17, "labelOffset": 19, "columnPadding": 9}}
          }
        },
        {
          "data": {"values": [
            {"s":"CUSUM","t":0,"c":0},{"s":"CUSUM","t":10.4,"c":0},{"s":"CUSUM","t":10.55,"c":0.3},{"s":"CUSUM","t":10.7,"c":1.49},{"s":"CUSUM","t":10.85,"c":1.53},{"s":"CUSUM","t":11,"c":1.83},{"s":"CUSUM","t":11.3,"c":1.98},{"s":"CUSUM","t":11.5,"c":2.31},{"s":"CUSUM","t":11.7,"c":2.69},{"s":"CUSUM","t":12,"c":2.84},{"s":"CUSUM","t":12.3,"c":2.91},{"s":"CUSUM","t":12.5,"c":3.18},{"s":"CUSUM","t":13,"c":3.33},{"s":"CUSUM","t":13.5,"c":3.55},{"s":"CUSUM","t":14,"c":3.59},{"s":"CUSUM","t":14.4,"c":3.63},{"s":"CUSUM","t":15,"c":3.57},{"s":"CUSUM","t":15.5,"c":3.63},{"s":"CUSUM","t":16,"c":3.74},{"s":"CUSUM","t":16.4,"c":3.89},{"s":"CUSUM","t":16.8,"c":4.07},{"s":"CUSUM","t":17.3,"c":4.15},{"s":"CUSUM","t":17.6,"c":4.11},{"s":"CUSUM","t":18,"c":4.15},{"s":"CUSUM","t":18.3,"c":4.07},{"s":"CUSUM","t":18.6,"c":4.22},{"s":"CUSUM","t":19,"c":4.19},{"s":"CUSUM","t":19.4,"c":4.04},{"s":"CUSUM","t":19.8,"c":3.78},{"s":"CUSUM","t":20.3,"c":3.55},{"s":"CUSUM","t":20.7,"c":3.55},{"s":"CUSUM","t":21,"c":3.18},{"s":"CUSUM","t":21.5,"c":2.91},{"s":"CUSUM","t":22,"c":2.88},{"s":"CUSUM","t":22.3,"c":2.84},{"s":"CUSUM","t":22.7,"c":2.5},{"s":"CUSUM","t":23,"c":2.43},{"s":"CUSUM","t":23.5,"c":2.28},{"s":"CUSUM","t":24,"c":2.05},{"s":"CUSUM","t":24.5,"c":1.83},{"s":"CUSUM","t":25,"c":1.79},{"s":"CUSUM","t":25.5,"c":1.68},{"s":"CUSUM","t":26,"c":1.64},{"s":"CUSUM","t":26.6,"c":1.6},{"s":"CUSUM","t":27,"c":1.62},{"s":"CUSUM","t":27.3,"c":1.6},{"s":"CUSUM","t":27.7,"c":1.53},{"s":"CUSUM","t":28,"c":1.55},{"s":"CUSUM","t":28.3,"c":1.5},{"s":"CUSUM","t":28.6,"c":1.79},{"s":"CUSUM","t":28.9,"c":1.9},{"s":"CUSUM","t":29.2,"c":1.98},{"s":"CUSUM","t":29.5,"c":1.87},{"s":"CUSUM","t":29.8,"c":1.98},{"s":"CUSUM","t":30,"c":1.94}
          ]},
          "mark": {"type": "line", "interpolate": "step-after", "strokeWidth": 1.6, "clip": true},
          "encoding": {
            "x": {"field": "t", "type": "quantitative", "axis": {"orient": "top", "labels": false, "title": null, "values": [0,5,10,15,20,25,30]}},
            "y": {"field": "c", "type": "quantitative", "scale": {"domain": [0, 6], "nice": false}, "axis": {"orient": "right", "values": [0,2,4,6], "title": null, "labelColor": "#1e9148", "tickColor": "#1e9148", "domain": true, "domainColor": "#1e9148", "labelPadding": 9}},
            "color": {"field": "s", "type": "nominal", "scale": {"domain": ["S1 (denoised)","CUSUM"], "range": ["#2f4ea8","#1e9148"]}, "legend": {"title": null, "orient": "top-right", "offset": 8, "direction": "horizontal", "columns": 2, "symbolType": "M-2.9,0H2.9", "labelFontSize": 17, "labelOffset": 19, "columnPadding": 9}},
            "strokeDash": {"field": "s", "type": "nominal", "scale": {"domain": ["S1 (denoised)","CUSUM"], "range": [[1,0],[7,5]]}, "legend": {"title": null, "orient": "top-right", "offset": 8, "direction": "horizontal", "columns": 2, "symbolType": "M-2.9,0H2.9", "labelFontSize": 17, "labelOffset": 19, "columnPadding": 9}}
          }
        }
      ],
      "resolve": {"scale": {"y": "independent"}, "axis": {"x": "independent", "y": "independent"}}
    }
  ]
}
